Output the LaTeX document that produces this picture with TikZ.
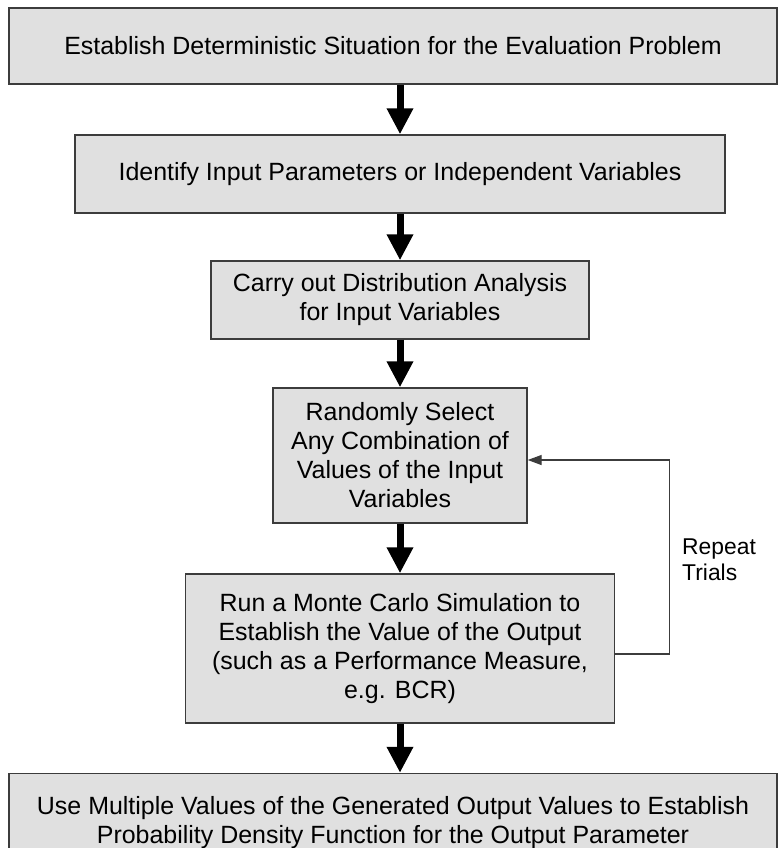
\documentclass[tikz,border=0pt]{standalone}
\usepackage{fontspec}
\setmainfont{Liberation Sans}
\usepackage{tikz}
\usetikzlibrary{arrows.meta,positioning}
\usepackage{xcolor}
\definecolor{mcgray}{RGB}{224,224,224}
\definecolor{mcedge}{RGB}{60,60,60}
\tikzstyle{step box} = [rectangle, draw=mcedge, fill=mcgray, line width=0.8pt, inner sep=0pt, align=center, font=\fontsize{14.2}{16.5}\selectfont]
\tikzstyle{bigarrow} = [line width=0.14cm, -{Triangle[width=0.5cm,length=0.52cm]}, color=black]
\tikzstyle{looparrow} = [line width=0.8pt, -{Triangle[width=0.2cm,length=0.28cm]}, color=mcedge]

\begin{document}
\begin{tikzpicture}[node distance=2.5cm]
\useasboundingbox (0,0) rectangle (15.58,-16.96);
\clip (0,0) rectangle (15.58,-16.96);
% Steps
\node (ident) [step box, minimum width=13cm, minimum height=1.56cm] at (8,-3.48) {Identify Input Parameters or Independent Variables};
\node (setup) [step box, above of=ident, node distance=2.56cm, xshift=-0.14cm, minimum width=15.36cm, minimum height=1.52cm] {Establish Deterministic Situation for the Evaluation Problem};
\node (distr) [step box, below of=ident, node distance=2.52cm, minimum width=7.56cm, minimum height=1.56cm] {Carry out Distribution Analysis\\for Input Variables};
\node (select) [step box, below of=distr, node distance=3.11cm, minimum width=5.08cm, minimum height=2.7cm] {Randomly Select\\Any Combination of\\Values of the Input\\Variables};
\node (simul) [step box, below of=select, node distance=3.86cm, minimum width=8.58cm, minimum height=2.98cm] {Run a Monte Carlo Simulation to\\Establish the Value of the Output\\(such as a Performance Measure,\\e.g. BCR)};
\node (pdf) [step box, below of=simul, node distance=3.48cm, xshift=-0.14cm, minimum width=15.36cm, minimum height=1.96cm] {Use Multiple Values of the Generated Output Values to Establish\\Probability Density Function for the Output Parameter};

% Flows
\draw[bigarrow] (setup.south -| ident.north) -- (ident.north);
\draw[bigarrow] (ident) -- (distr);
\draw[bigarrow] (distr) -- (select);
\draw[bigarrow] (select) -- (simul);
\draw[bigarrow] (simul.south) -- (simul.south |- pdf.north);

% Loop back
\draw[looparrow] ([yshift=-0.11cm]simul.east) -- ++(1.08,0) |- ([yshift=-0.09cm]select.east);
\node (repeat) [anchor=west, align=left, font=\fontsize{13}{15}\selectfont] at (13.52,-11.2) {Repeat\\Trials};
\end{tikzpicture}
\end{document}
